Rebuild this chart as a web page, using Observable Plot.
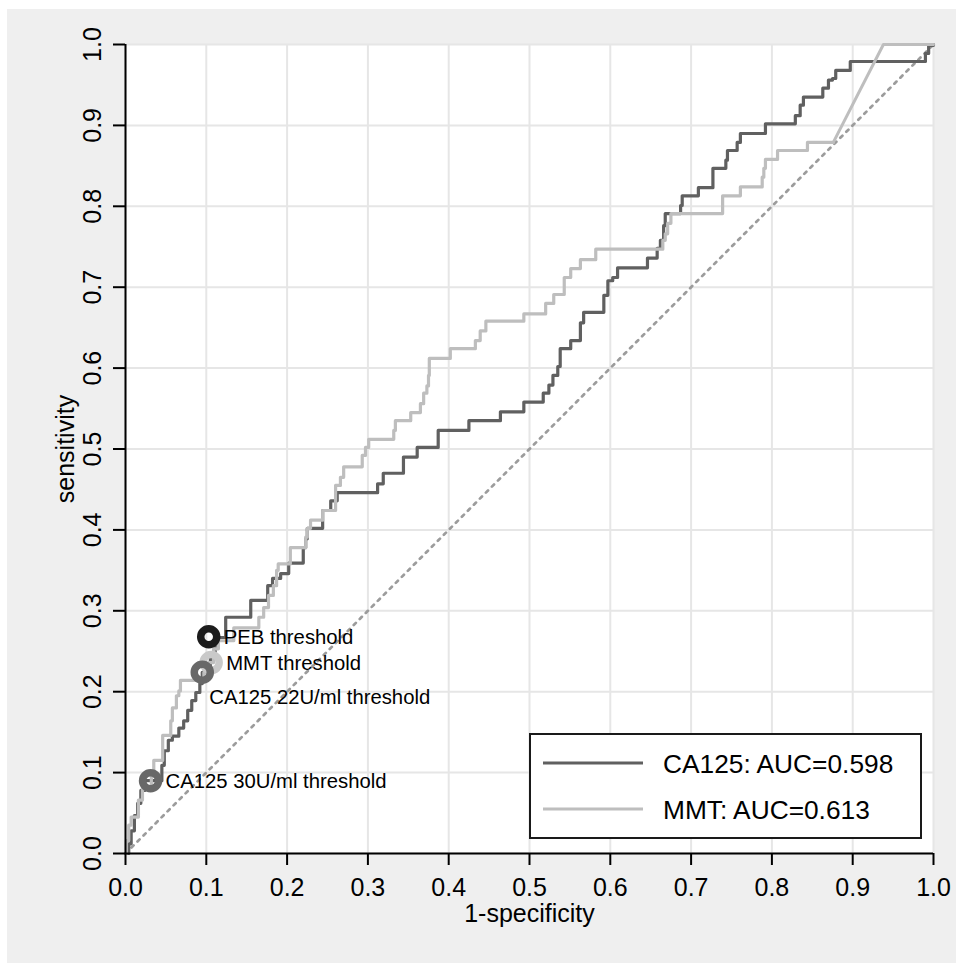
<!DOCTYPE html>
<html><head><meta charset="utf-8">
<script src="https://cdn.jsdelivr.net/npm/d3@7"></script>
<script src="https://cdn.jsdelivr.net/npm/@observablehq/plot@0.6"></script>
<style>
html,body{margin:0;padding:0;background:#fff;}
#wrap{position:relative;width:956px;height:963px;overflow:hidden;font-family:"Liberation Sans",Arial,sans-serif;}
#bg{position:absolute;left:7px;top:9px;right:0;bottom:0;background:#efefef;}
#chart{position:absolute;left:0;top:0;}
#legend{position:absolute;left:529px;top:733px;width:389px;height:102px;border:2px solid #1a1a1a;background:#fff;}
#legend svg{display:block;}
</style>
</head><body>
<div id="wrap"><div id="bg"></div><div id="chart"></div><div id="legend"></div></div>
<script>
const xTicks = [0,0.1,0.2,0.3,0.4,0.5,0.6,0.7,0.8,0.9,1.0];
const yTicks = [0,0.1,0.2,0.3,0.4,0.5,0.6,0.7,0.8,0.9,1.0];
const seriesNames = ["CA125","MMT"];
const aucValues = [0.598, 0.613];
const seriesColors = ["#606060","#bebebe"];

const ca125Fpr = [0,0.004,0.007,0.011,0.015,0.019,0.024,0.045,0.048,0.053,0.058,0.066,0.072,0.077,0.082,0.087,0.092,0.095,0.105,0.111,0.124,0.155,0.176,0.182,0.192,0.202,0.220,0.223,0.225,0.244,0.254,0.262,0.312,0.319,0.344,0.361,0.387,0.425,0.464,0.493,0.517,0.524,0.529,0.535,0.538,0.551,0.563,0.567,0.592,0.597,0.603,0.609,0.646,0.658,0.662,0.666,0.668,0.687,0.689,0.709,0.727,0.743,0.745,0.757,0.761,0.792,0.829,0.835,0.839,0.863,0.870,0.875,0.879,0.897,0.990,0.994,1];
const ca125Tpr = [0,0.012,0.028,0.047,0.062,0.078,0.090,0.109,0.127,0.140,0.145,0.155,0.164,0.177,0.189,0.199,0.210,0.224,0.245,0.267,0.292,0.313,0.331,0.340,0.346,0.359,0.378,0.389,0.402,0.424,0.436,0.446,0.457,0.470,0.490,0.502,0.523,0.535,0.546,0.558,0.569,0.579,0.591,0.602,0.624,0.634,0.656,0.669,0.690,0.708,0.712,0.724,0.736,0.748,0.758,0.776,0.791,0.801,0.813,0.823,0.847,0.857,0.869,0.879,0.890,0.902,0.912,0.925,0.935,0.946,0.956,0.958,0.968,0.979,0.989,0.999,1];

const mmtFpr = [0,0.001,0.004,0.007,0.016,0.021,0.032,0.035,0.046,0.056,0.058,0.063,0.066,0.068,0.097,0.103,0.109,0.115,0.134,0.165,0.171,0.177,0.183,0.187,0.189,0.204,0.223,0.225,0.229,0.244,0.260,0.266,0.270,0.293,0.297,0.301,0.332,0.334,0.353,0.365,0.369,0.373,0.375,0.376,0.402,0.433,0.439,0.446,0.493,0.520,0.530,0.543,0.551,0.563,0.582,0.665,0.668,0.671,0.675,0.739,0.761,0.788,0.790,0.792,0.807,0.844,0.876];
const mmtTpr = [0,0.016,0.035,0.045,0.066,0.080,0.099,0.115,0.146,0.164,0.180,0.195,0.201,0.214,0.224,0.236,0.253,0.263,0.279,0.292,0.304,0.319,0.331,0.350,0.358,0.378,0.391,0.402,0.412,0.424,0.455,0.465,0.478,0.492,0.502,0.512,0.523,0.535,0.545,0.556,0.569,0.578,0.591,0.612,0.624,0.634,0.646,0.658,0.667,0.680,0.691,0.712,0.723,0.734,0.747,0.758,0.766,0.779,0.791,0.813,0.824,0.836,0.847,0.858,0.869,0.879,0.879];
const mmtTailFpr = [0.876,0.938,1];
const mmtTailTpr = [0.879,1,1];

const diagFpr = [0,1];
const diagTpr = [0,1];

const thresholdLabels = ["MMT threshold","CA125 22U/ml threshold","PEB threshold","CA125 30U/ml threshold"];
const thresholdFpr = [0.106,0.095,0.103,0.031];
const thresholdTpr = [0.236,0.224,0.268,0.090];
const thresholdGroup = ["MMT","CA125","PEB","CA125"];

const markerColor = {MMT:"#c9c9c9", CA125:"#686868", PEB:"#1c1c1c"};
const thresholds = thresholdLabels.map((t,i)=>({label:t, x:thresholdFpr[i], y:thresholdTpr[i], g:thresholdGroup[i], below: t==="CA125 22U/ml threshold"}));
const fmt = d3.format(".1f");

const chart = Plot.plot({
  width: 956, height: 963,
  marginLeft: 125, marginRight: 23, marginTop: 44, marginBottom: 110,
  x: {domain:[0,1]},
  y: {domain:[0,1]},
  color: {type:"identity"},
  style: {background:"transparent", fontFamily:"'Liberation Sans', Arial, sans-serif", color:"#000", overflow:"visible"},
  marks: [
    Plot.frame({fill:"#ffffff", stroke:"none"}),
    Plot.gridX(xTicks, {stroke:"#e6e6e6", strokeOpacity:1, strokeWidth:2}),
    Plot.gridY(yTicks, {stroke:"#e6e6e6", strokeOpacity:1, strokeWidth:2}),
    Plot.line({length:diagFpr.length}, {x:diagFpr, y:diagTpr, stroke:"#9c9c9c", strokeWidth:2.7, strokeDasharray:"3,5.5"}),
    Plot.line({length:ca125Fpr.length}, {x:ca125Fpr, y:ca125Tpr, curve:"step-after", stroke:seriesColors[0], strokeWidth:3.2}),
    Plot.line({length:mmtFpr.length}, {x:mmtFpr, y:mmtTpr, curve:"step-after", stroke:seriesColors[1], strokeWidth:3.2}),
    Plot.line({length:mmtTailFpr.length}, {x:mmtTailFpr, y:mmtTailTpr, stroke:seriesColors[1], strokeWidth:3}),
    Plot.dot(thresholds, {x:"x", y:"y", r:8, fill:"none", stroke:d=>markerColor[d.g], strokeWidth:7.5}),
    Plot.text(thresholds.filter(d=>!d.below), {x:"x", y:"y", text:"label", textAnchor:"start", dx:15, dy:1, fontSize:20.3, fill:"#000"}),
    Plot.text(thresholds.filter(d=>d.below), {x:"x", y:"y", text:"label", textAnchor:"start", dx:7, dy:25, fontSize:20.3, fill:"#000"}),
    Plot.ruleX([0], {stroke:"#000", strokeWidth:2}),
    Plot.ruleY([0], {stroke:"#000", strokeWidth:2}),
    Plot.axisX(xTicks, {tickSize:12, tickPadding:13, fontSize:25, tickFormat:fmt, label:null, strokeWidth:2}),
    Plot.axisY(yTicks, {tickSize:12, tickPadding:13, tickRotate:-90, fontSize:25, tickFormat:fmt, label:null, strokeWidth:2}),
    Plot.text(["1-specificity"], {frameAnchor:"bottom", dy:68, lineAnchor:"bottom", fontSize:25, fill:"#000"}),
    Plot.text(["sensitivity"], {frameAnchor:"left", dx:-52, rotate:-90, textAnchor:"middle", lineAnchor:"bottom", fontSize:25, fill:"#000"})
  ]
});
document.getElementById("chart").appendChild(chart);

const leg = d3.select("#legend").append("svg").attr("width",389).attr("height",102);
seriesNames.forEach((name,i)=>{
  const cy = 28 + i*46;
  leg.append("line").attr("x1",12).attr("x2",112).attr("y1",cy).attr("y2",cy)
    .attr("stroke",seriesColors[i]).attr("stroke-width",3);
  leg.append("text").attr("x",132).attr("y",cy+10)
    .attr("font-family","'Liberation Sans', Arial, sans-serif").attr("font-size",26.3).attr("fill","#000")
    .text(`${name}: AUC=${aucValues[i].toFixed(3)}`);
});
</script>
</body></html>
